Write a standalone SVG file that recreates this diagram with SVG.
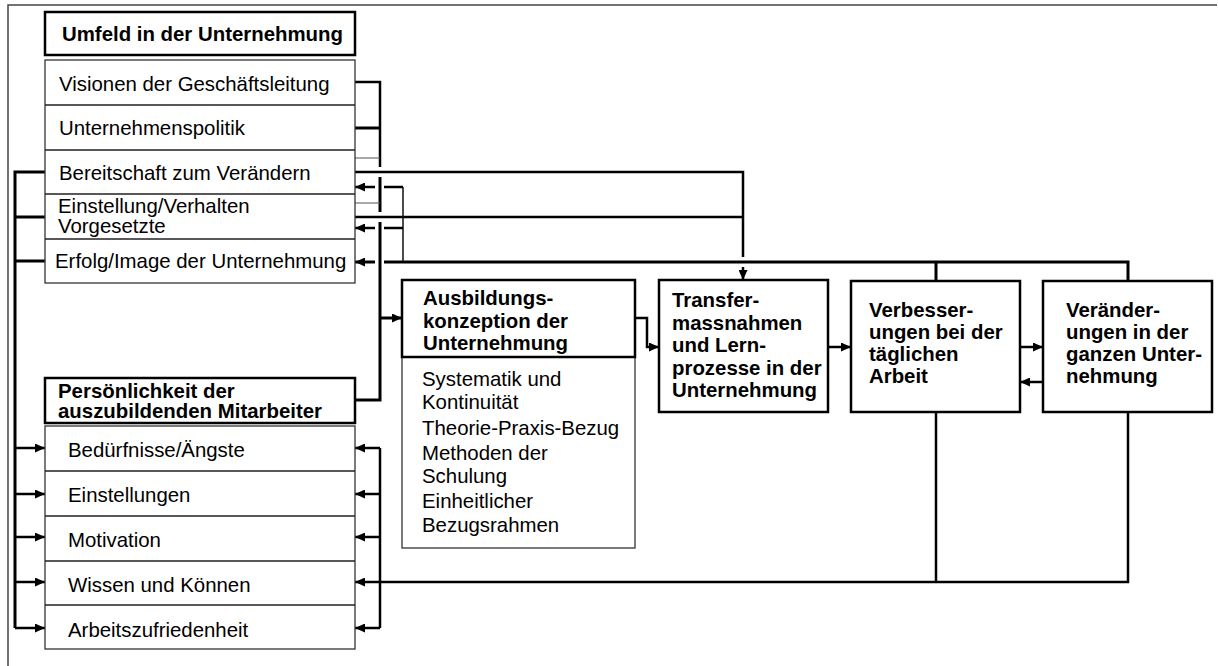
<svg xmlns="http://www.w3.org/2000/svg" width="1218" height="666" viewBox="0 0 1218 666">
  <style>
    text { font-family: "Liberation Sans", Arial, sans-serif; font-size: 20.4px; fill: #000; }
    .b { font-weight: bold; }
    .head { fill: #fff; stroke: #000; stroke-width: 2.5; }
    .list { fill: #fff; stroke: #333; stroke-width: 1.3; }
    .sep { stroke: #222; stroke-width: 1.3; fill: none; }
    .c { fill: none; stroke: #000; stroke-width: 2.5; }
    .ck { fill: none; stroke: #000; stroke-width: 3; }
    .thin { fill: none; stroke: #555; stroke-width: 1.2; }
    .a { marker-end: url(#arrow); }
  </style>
  <defs>
    <marker id="arrow" markerUnits="userSpaceOnUse" markerWidth="11" markerHeight="9" refX="10" refY="4.5" orient="auto">
      <path d="M0,0 L10,4.5 L0,9 z" fill="#000"/>
    </marker>
  </defs>

  <rect width="1218" height="666" fill="#fff"/>
  <!-- page frame -->
  <path d="M8,666 V5 H1217" fill="none" stroke="#444" stroke-width="1.5"/>

  <!-- connectors -->
  <g id="connectors">
    <!-- management factors into the training concept -->
    <path class="c" d="M355,82 H380 V167"/>
    <path class="ck" d="M380,177 V212"/>
    <path class="ck" d="M380,222 V400 H355"/>
    <path class="ck" d="M355,128 H380"/>
    <path class="thin" d="M355,158 H380 M355,203 H380"/>
    <path class="ck a" d="M380,318 H402"/>

    <!-- readiness and superiors into transfer -->
    <path class="c" d="M355,172 H743 V257"/>
    <path class="c a" d="M743,267 V280"/>
    <path class="c" d="M355,217 H743"/>

    <!-- left bus into the personality list -->
    <path class="ck" d="M45,172 H15 V628"/>
    <path class="ck" d="M45,217 H15 M45,261 H15"/>
    <path class="c a" d="M15,448 H45"/>
    <path class="c a" d="M15,494 H45"/>
    <path class="c a" d="M15,537 H45"/>
    <path class="c a" d="M15,582 H45"/>
    <path class="c a" d="M15,628 H45"/>

    <!-- feedback from improvements / changes (top) -->
    <path class="ck" d="M1128,281 V262 H384"/>
    <path class="ck" d="M936,281 V262"/>
    <path class="ck a" d="M375,262 H355"/>
    <path fill="none" stroke="#111" stroke-width="1.5" d="M403,262 V187"/>
    <path class="c" d="M403,187 H384"/>
    <path class="c a" d="M375,187 H355"/>
    <path class="c" d="M403,228 H384"/>
    <path class="c a" d="M375,228 H355"/>

    <!-- feedback from improvements / changes (bottom) -->
    <path class="c" d="M936,412 V582"/>
    <path class="c a" d="M1128,412 V582 H355"/>
    <path class="c" d="M380,448 V628"/>
    <path class="c a" d="M380,448 H355"/>
    <path class="c a" d="M380,494 H355"/>
    <path class="c a" d="M380,537 H355"/>
    <path class="c a" d="M380,628 H355"/>

    <!-- main chain -->
    <path class="c a" d="M635,318 H647 V347 H659"/>
    <path class="c a" d="M828,347 H851"/>
    <path class="c a" d="M1020,347 H1043"/>
    <path class="c a" d="M1043,382 H1020"/>
  </g>

  <!-- company environment -->
  <g id="umfeld">
    <rect class="head" x="45" y="12" width="310" height="43"/>
    <text class="b" x="62" y="41">Umfeld in der Unternehmung</text>
  </g>
  <g id="umfeld-faktoren">
    <rect class="list" x="45" y="60" width="310" height="223"/>
    <path class="sep" d="M45,105 H355 M45,150 H355 M45,194 H355 M45,239 H355"/>
    <text x="59" y="91">Visionen der Geschäftsleitung</text>
    <text x="59" y="135">Unternehmenspolitik</text>
    <text x="59" y="180">Bereitschaft zum Verändern</text>
    <text x="58" y="213">Einstellung/Verhalten</text>
    <text x="58" y="233">Vorgesetzte</text>
    <text x="55" y="268">Erfolg/Image der Unternehmung</text>
  </g>

  <!-- personality of trainees -->
  <g id="persoenlichkeit">
    <rect class="head" x="45" y="378" width="310" height="45"/>
    <text class="b" x="58" y="398">Persönlichkeit der</text>
    <text class="b" x="58" y="418">auszubildenden Mitarbeiter</text>
  </g>
  <g id="persoenlichkeit-faktoren">
    <rect class="list" x="45" y="426" width="310" height="223"/>
    <path class="sep" d="M45,471 H355 M45,516 H355 M45,561 H355 M45,605 H355"/>
    <text x="68" y="457">Bedürfnisse/Ängste</text>
    <text x="68" y="502">Einstellungen</text>
    <text x="68" y="547">Motivation</text>
    <text x="68" y="592">Wissen und Können</text>
    <text x="68" y="637">Arbeitszufriedenheit</text>
  </g>

  <!-- training concept -->
  <g id="ausbildung">
    <rect class="list" x="402" y="357" width="233" height="191"/>
    <rect class="head" x="402" y="280" width="233" height="77"/>
    <text class="b" x="423" y="305">Ausbildungs-</text>
    <text class="b" x="423" y="328">konzeption der</text>
    <text class="b" x="423" y="350">Unternehmung</text>
    <text x="422" y="386">Systematik und</text>
    <text x="422" y="409">Kontinuität</text>
    <text x="422" y="435">Theorie-Praxis-Bezug</text>
    <text x="422" y="460">Methoden der</text>
    <text x="422" y="483">Schulung</text>
    <text x="422" y="508">Einheitlicher</text>
    <text x="422" y="532">Bezugsrahmen</text>
  </g>

  <!-- transfer -->
  <g id="transfer">
    <rect class="head" x="659" y="280" width="169" height="132"/>
    <text class="b" x="672" y="307">Transfer-</text>
    <text class="b" x="672" y="330">massnahmen</text>
    <text class="b" x="672" y="352">und Lern-</text>
    <text class="b" x="672" y="375">prozesse in der</text>
    <text class="b" x="672" y="397">Unternehmung</text>
  </g>

  <!-- daily work -->
  <g id="verbesserungen">
    <rect class="head" x="851" y="281" width="169" height="131"/>
    <text class="b" x="869" y="317">Verbesser-</text>
    <text class="b" x="869" y="339">ungen bei der</text>
    <text class="b" x="869" y="361">täglichen</text>
    <text class="b" x="869" y="383">Arbeit</text>
  </g>

  <!-- whole company -->
  <g id="veraenderungen">
    <rect class="head" x="1043" y="281" width="169" height="131"/>
    <text class="b" x="1066" y="317">Veränder-</text>
    <text class="b" x="1066" y="339">ungen in der</text>
    <text class="b" x="1066" y="361">ganzen Unter-</text>
    <text class="b" x="1066" y="383">nehmung</text>
  </g>
</svg>
